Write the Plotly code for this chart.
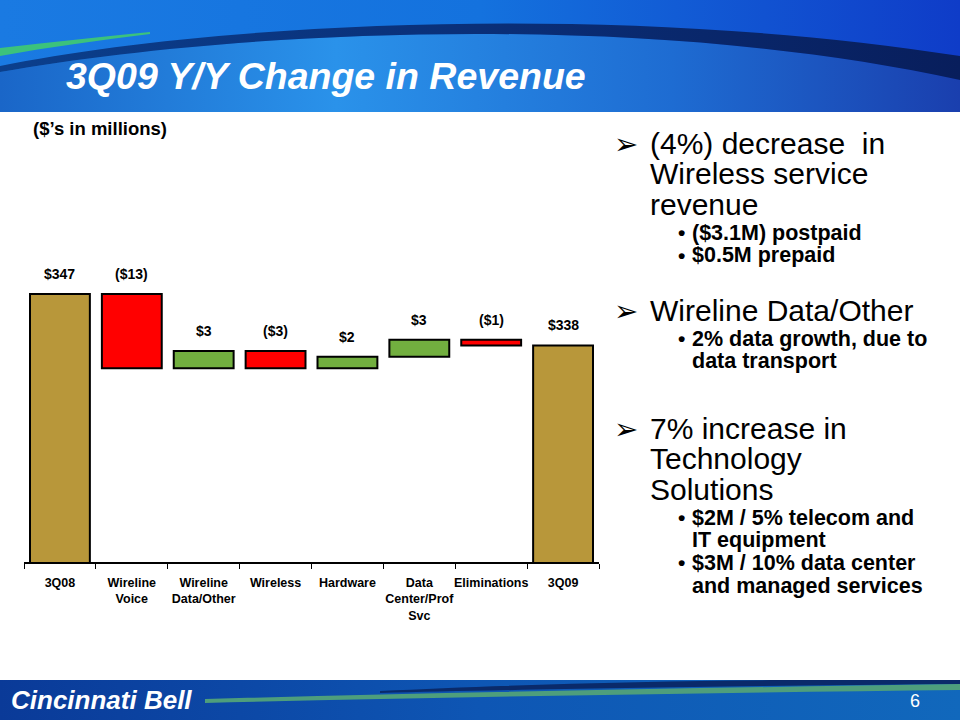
import base64
import plotly.graph_objects as go

# ---------------- data ----------------
categories = ["3Q08", "Wireline Voice", "Wireline Data/Other", "Wireless",
              "Hardware", "Data Center/Prof Svc", "Eliminations", "3Q09"]
tick_labels = ["3Q08", "Wireline<br>Voice", "Wireline<br>Data/Other", "Wireless",
               "Hardware", "Data<br>Center/Prof<br>Svc", "Eliminations", "3Q09"]
values = [347, -13, 3, -3, 2, 3, -1, 338]
measures = ["total", "relative", "relative", "relative",
            "relative", "relative", "relative", "total"]

title_text = "3Q09 Y/Y Change in Revenue"
units_text = "($’s in millions)"
bullet_groups = [
    (["(4%) decrease  in", "Wireless service", "revenue"],
     [["($3.1M) postpaid"], ["$0.5M prepaid"]]),
    (["Wireline Data/Other"],
     [["2% data growth, due to", "data transport"]]),
    (["7% increase in", "Technology", "Solutions"],
     [["$2M / 5% telecom and", "IT equipment"],
      ["$3M / 10% data center", "and managed services"]]),
]

# ---------------- waterfall geometry from data ----------------
bases, heights, tops, colors, labels = [], [], [], [], []
running = 0
for v, m in zip(values, measures):
    if m == "total":
        bases.append(0); heights.append(v); tops.append(v)
        running = v
        colors.append("#B8973A")
    else:
        start, end = running, running + v
        bases.append(min(start, end)); heights.append(abs(v)); tops.append(max(start, end))
        running = end
        colors.append("#72AF3F" if v > 0 else "#FF0000")
    labels.append(f"${v}" if v >= 0 else f"(${-v})")

# ---------------- layout helpers ----------------
W, H = 960, 720
L, R, T, B = 24, 361, 130, 158
PW, PH = W - L - R, H - T - B


def px(x):
    return (x - L) / PW


def py(y):
    return (H - B - y) / PH


ARIAL = "Liberation Sans, Arial, sans-serif"

fig = go.Figure()
fig.add_trace(go.Bar(
    x=categories, y=heights, base=bases,
    marker=dict(color=colors, line=dict(color="black", width=2)),
    hoverinfo="skip", showlegend=False,
))

annotations = []
for c, t, lab in zip(categories, tops, labels):
    annotations.append(dict(x=c, y=t, xref="x", yref="y", text=f"<b>{lab}</b>",
                            showarrow=False, yanchor="middle", yshift=20,
                            font=dict(family=ARIAL, size=14, color="black")))

# title & units
annotations.append(dict(x=px(64), y=py(76), xref="paper", yref="paper",
                        text=f"<b><i>{title_text}</i></b>", showarrow=False,
                        xanchor="left", yanchor="middle",
                        font=dict(family=ARIAL, size=37.5, color="white")))
annotations.append(dict(x=px(31), y=py(129), xref="paper", yref="paper",
                        text=f"<b>{units_text}</b>", showarrow=False,
                        xanchor="left", yanchor="middle",
                        font=dict(family=ARIAL, size=18.5, color="black")))

# right-hand bullets
group_starts = [143, 310, 428]
MAIN_SP, SUB_GAP, SUB_SP = 30.5, 28.5, 22.7
for (mains, subs), y0 in zip(bullet_groups, group_starts):
    y = y0
    annotations.append(dict(x=px(612), y=py(y + 1), xref="paper", yref="paper", text="➢",
                            showarrow=False, xanchor="left", yanchor="middle",
                            font=dict(family="DejaVu Sans", size=29, color="black")))
    for i, line in enumerate(mains):
        if i > 0:
            y += MAIN_SP
        annotations.append(dict(x=px(648), y=py(y), xref="paper", yref="paper", text=line,
                                showarrow=False, xanchor="left", yanchor="middle",
                                font=dict(family=ARIAL, size=30, color="black")))
    y += SUB_GAP - SUB_SP
    for sub in subs:
        for j, line in enumerate(sub):
            y += SUB_SP
            if j == 0:
                annotations.append(dict(x=px(676), y=py(y), xref="paper", yref="paper",
                                        text="<b>•</b>", showarrow=False,
                                        xanchor="left", yanchor="middle",
                                        font=dict(family=ARIAL, size=21, color="black")))
            annotations.append(dict(x=px(690), y=py(y), xref="paper", yref="paper",
                                    text=f"<b>{line}</b>", showarrow=False,
                                    xanchor="left", yanchor="middle",
                                    font=dict(family=ARIAL, size=21.5, color="black")))

# footer text
annotations.append(dict(x=px(9), y=py(700), xref="paper", yref="paper",
                        text="<b><i>Cincinnati Bell</i></b>", showarrow=False,
                        xanchor="left", yanchor="middle",
                        font=dict(family=ARIAL, size=26, color="white")))
annotations.append(dict(x=px(908), y=py(701), xref="paper", yref="paper",
                        text="6", showarrow=False, xanchor="left", yanchor="middle",
                        font=dict(family=ARIAL, size=18, color="white")))

# decorative header/footer background
svg = f'''<svg xmlns="http://www.w3.org/2000/svg" width="{W}" height="{H}" viewBox="0 0 {W} {H}" preserveAspectRatio="none">
<defs>
<linearGradient id="hg" x1="0" y1="0" x2="1" y2="0">
<stop offset="0" stop-color="#1a7ae2"/><stop offset="0.5" stop-color="#1472de"/><stop offset="1" stop-color="#0f3cc8"/></linearGradient>
<linearGradient id="lg" x1="0" y1="0" x2="1" y2="0">
<stop offset="0" stop-color="#1a66c8"/><stop offset="0.35" stop-color="#2a92ea"/><stop offset="0.7" stop-color="#1e6cd2"/><stop offset="1" stop-color="#1a3fae"/></linearGradient>
<linearGradient id="sw" x1="0" y1="0" x2="1" y2="0">
<stop offset="0" stop-color="#0b3f8c"/><stop offset="0.5" stop-color="#0a2f78"/><stop offset="1" stop-color="#081e5c"/></linearGradient>
<linearGradient id="fg" x1="0" y1="0" x2="1" y2="0">
<stop offset="0" stop-color="#0a3a98"/><stop offset="0.5" stop-color="#0e56b4"/><stop offset="1" stop-color="#1168bc"/></linearGradient>
</defs>
<rect x="0" y="0" width="960" height="112" fill="url(#hg)"/>
<path d="M0,72 C250,28 650,12 960,80 L960,112 L0,112 Z" fill="url(#lg)"/>
<path d="M0,66 C200,25 600,0 960,56 L960,80 C650,12 250,28 0,72 Z" fill="url(#sw)"/>
<path d="M0,48 C50,42 100,37 150,32 L150,34 C100,40 50,47 0,56 Z" fill="#3cc27c"/>
<rect x="0" y="680" width="960" height="40" fill="url(#fg)"/>
<path d="M380,691 C500,685 650,681 780,680 L960,680 L960,684 C700,686 500,690 380,693 Z" fill="#0a2a6a"/>
<path d="M205,699 C450,692 700,688 960,684 L960,690 C700,693 450,697 205,703 Z" fill="#4e9e7c"/>
</svg>'''
src = "data:image/svg+xml;base64," + base64.b64encode(svg.encode()).decode()

fig.update_layout(
    width=W, height=H,
    margin=dict(l=L, r=R, t=T, b=B),
    paper_bgcolor="white", plot_bgcolor="rgba(0,0,0,0)",
    bargap=0.167,
    annotations=annotations,
    images=[dict(source=src, xref="paper", yref="paper",
                 x=px(0), y=py(0), sizex=W / PW, sizey=H / PH,
                 xanchor="left", yanchor="top", sizing="stretch", layer="below")],
    xaxis=dict(type="category", tickvals=categories, ticktext=tick_labels,
               ticks="outside", tickson="boundaries", ticklen=5, tickwidth=1,
               tickcolor="black", showline=True, linecolor="black", linewidth=2,
               showgrid=False, ticklabelstandoff=8, tickangle=0,
               tickfont=dict(family=ARIAL, size=12.5, color="black", weight="bold"),
               range=[-0.5, len(categories) - 0.5]),
    yaxis=dict(range=[300, 300 + PH / 5.7], visible=False, showgrid=False,
               zeroline=False),
)

fig.write_html("out.html")
